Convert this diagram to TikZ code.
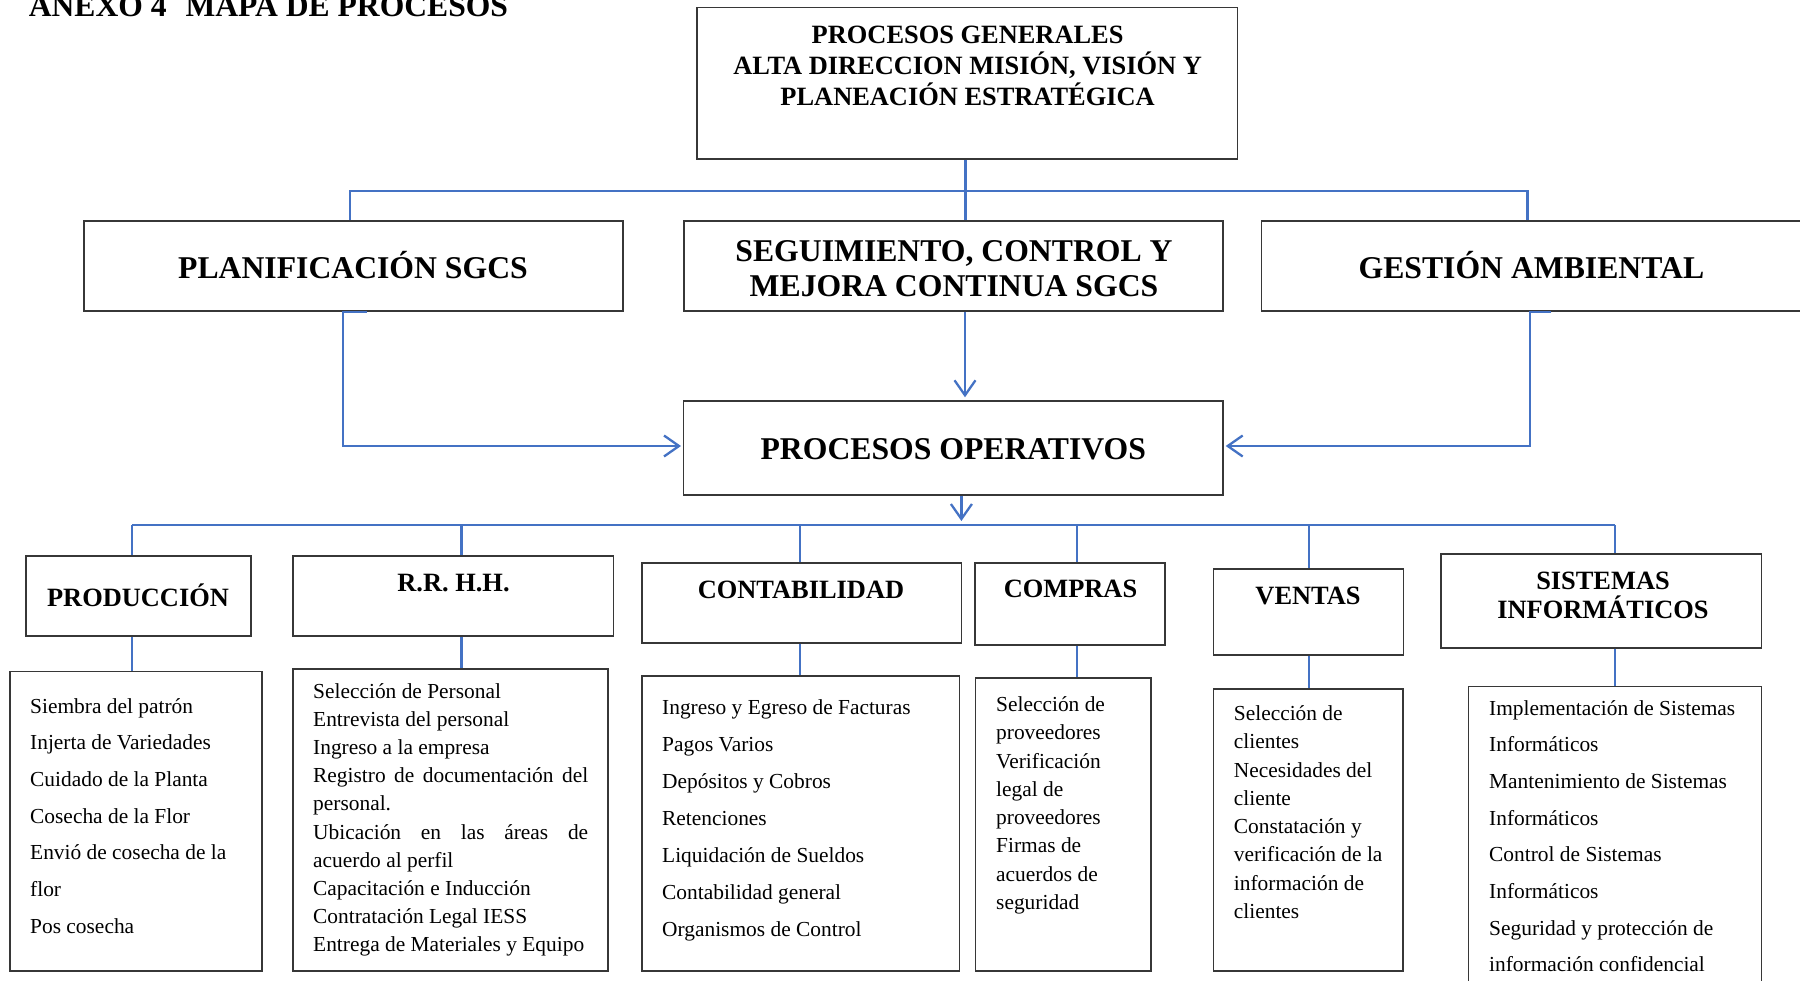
\documentclass[tikz,border=0pt]{standalone}
\usepackage{fontspec}
\setmainfont{Liberation Serif}
\usetikzlibrary{arrows.meta,fit}
\definecolor{connblue}{RGB}{68,114,196}
\definecolor{boxgray}{RGB}{55,55,55}
\begin{document}
\begin{tikzpicture}[x=1pt,y=-1pt,
  box/.style={draw=boxgray, line width=1.4pt, inner sep=0pt},
  conn/.style={draw=connblue, line width=2.3pt},
  arr/.style={conn, -{Straight Barb[length=15pt,width=21pt]}},
  ttl/.style={font=\bfseries\fontsize{31.6}{36}\selectfont, inner sep=0pt, anchor=base west},
  big/.style={font=\bfseries\fontsize{31.7}{36}\selectfont, inner sep=0pt, anchor=base},
  head/.style={font=\bfseries\fontsize{26.4}{30}\selectfont, inner sep=0pt, anchor=base},
  item/.style={font=\fontsize{21.4}{25}\selectfont, inner sep=0pt, anchor=base west}]
\useasboundingbox (0,0) rectangle (1800,981);
\clip (0,0) rectangle (1800,981);

% title
\node[ttl] (title) at (28.6,17) {ANEXO 4\hspace{0.6em}MAPA DE PROCESOS};

% upper boxes
\node[box, fit={(697,7.3) (1237.5,159)}] (top) {};
\node[box, fit={(84,221) (623,311)}] (plan) {};
\node[box, fit={(684,221) (1223,311)}] (seg) {};
\node[box, fit={(1261.7,221) (1802,311)}] (gest) {};
\node[box, fit={(683.7,401) (1223,495)}] (po) {};

\node[head] (top1) at (967.6,43.3) {PROCESOS GENERALES};
\node[head] (top2) at (967.6,74.3) {ALTA DIRECCION MISIÓN, VISIÓN Y};
\node[head] (top3) at (967.6,105.3) {PLANEACIÓN ESTRATÉGICA};
\node[big] (plant) at (353,278.3) {PLANIFICACIÓN SGCS};
\node[big] (seg1) at (954,261.7) {SEGUIMIENTO, CONTROL Y};
\node[big] (seg2) at (954,296.7) {MEJORA CONTINUA SGCS};
\node[big] (gestt) at (1531.4,278.3) {GESTIÓN AMBIENTAL};
\node[big] (pot) at (953.3,460) {PROCESOS OPERATIVOS};

% lower head boxes
\node[box, fit={(25.8,556) (251,636)}] (prod) {};
\node[box, fit={(293,556) (613.7,636)}] (rrhh) {};
\node[box, fit={(641.8,563) (961.2,643)}] (cont) {};
\node[box, fit={(975,563) (1165,645)}] (comp) {};
\node[box, fit={(1213.4,569) (1403.4,655)}] (vent) {};
\node[box, fit={(1441,554) (1761.5,648)}] (sist) {};

\node[head] (prodt) at (138,606) {PRODUCCIÓN};
\node[head] (rrhht) at (453.5,591) {R.R. H.H.};
\node[head] (contt) at (801,598.3) {CONTABILIDAD};
\node[head] (compt) at (1070.5,597.7) {COMPRAS};
\node[head] (ventt) at (1308,604) {VENTAS};
\node[head] (sist1) at (1603,589) {SISTEMAS};
\node[head] (sist2) at (1603,618.3) {INFORMÁTICOS};

% list boxes
\node[box, fit={(9.8,671.7) (262,971)}] (lprod) {};
\node[box, fit={(293,669) (608,971)}] (lrrhh) {};
\node[box, fit={(641.8,676) (959.5,971)}] (lcont) {};
\node[box, fit={(975.5,678) (1151,971)}] (lcomp) {};
\node[box, fit={(1213.4,689) (1403,971)}] (lvent) {};
\node[box, fit={(1468.7,686.7) (1761.4,995)}] (lsist) {};

\foreach \t [count=\i from 0] in {Siembra del patrón, Injerta de Variedades, Cuidado de la Planta, Cosecha de la Flor, Envió de cosecha de la, flor, Pos cosecha}
  \node[item] (prod-\i) at (30,713+\i*36.7) {\t};
\foreach \t [count=\i from 0] in {Selección de Personal, Entrevista del personal, Ingreso a la empresa, {\makebox[275pt][s]{Registro de documentación del}}, personal., {\makebox[275pt][s]{Ubicación en las áreas de}}, acuerdo al perfil, Capacitación e Inducción, Contratación Legal IESS, Entrega de Materiales y Equipo}
  \node[item] (rrhh-\i) at (313,698.3+\i*28.16) {\t};
\foreach \t [count=\i from 0] in {Ingreso y Egreso de Facturas, Pagos Varios, Depósitos y Cobros, Retenciones, Liquidación de Sueldos, Contabilidad general, Organismos de Control}
  \node[item] (cont-\i) at (662,714+\i*37) {\t};
\foreach \t [count=\i from 0] in {Selección de, proveedores, Verificación, legal de, proveedores, Firmas de, acuerdos de, seguridad}
  \node[item] (comp-\i) at (996,711.7+\i*28.23) {\t};
\foreach \t [count=\i from 0] in {Selección de, clientes, Necesidades del, cliente, Constatación y, verificación de la, información de, clientes}
  \node[item] (vent-\i) at (1233.7,720.7+\i*28.23) {\t};
\foreach \t [count=\i from 0] in {Implementación de Sistemas, Informáticos, Mantenimiento de Sistemas, Informáticos, Control de Sistemas, Informáticos, Seguridad y protección de, información confidencial}
  \node[item] (sist-\i) at (1489,715+\i*36.67) {\t};

% upper connectors
\coordinate (tL) at (350,191);
\coordinate (tR) at (1527.5,191);
\coordinate (tM) at (965.4,191);
\draw[conn] (tM |- top.south) -- (tM |- seg.north);
\draw[conn] (tL |- plan.north) -- (tL) -- (tR) -- (tR |- gest.north);

\coordinate (pv) at (343,446);
\draw[arr, shorten >=2pt] ([xshift=13.5pt]plan.south) -- (pv |- plan.south) -- (pv) -- (pv -| po.west);
\coordinate (gv) at (1530,446);
\draw[arr, shorten >=2pt] ([xshift=19.5pt]gest.south) -- (gv |- gest.south) -- (gv) -- (gv -| po.east);
\coordinate (sv) at (965,350);
\draw[arr, shorten >=3pt] (sv |- seg.south) -- (sv |- po.north);

% lower connectors
\coordinate (pd) at (961.4,525);
\draw[arr, shorten >=4pt] (pd |- po.south) -- (pd);
\coordinate (bP) at (132,525);
\coordinate (bR) at (461.5,525);
\coordinate (bC) at (799.7,525);
\coordinate (bM) at (1077,525);
\coordinate (bV) at (1309,525);
\coordinate (bS) at (1614.7,525);
\draw[conn] (bP) -- (bS);
\foreach \c/\n/\l in {bP/prod/lprod, bR/rrhh/lrrhh, bC/cont/lcont, bM/comp/lcomp, bV/vent/lvent, bS/sist/lsist}{
  \draw[conn] (\c) -- (\c |- \n.north);
  \draw[conn] (\c |- \n.south) -- (\c |- \l.north);
}
\end{tikzpicture}
\end{document}
